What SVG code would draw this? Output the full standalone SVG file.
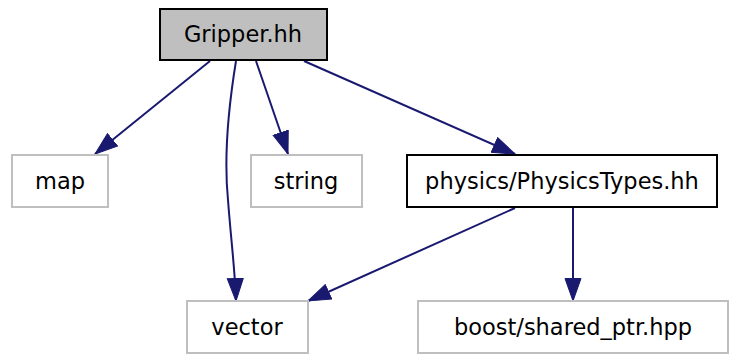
<svg xmlns="http://www.w3.org/2000/svg" width="730" height="354" viewBox="0 0 730 354">
<style>
.n rect{stroke-width:2}
.g rect{fill:#ffffff;stroke:#bfbfbf}
.b rect{fill:#ffffff;stroke:#000000}
text{font-family:"DejaVu Sans",sans-serif;font-size:22.5px;fill:#000000;text-anchor:middle}
.e{fill:none;stroke:#191970;stroke-width:2}
</style>
<defs>
<marker id="ah" markerUnits="userSpaceOnUse" markerWidth="24" markerHeight="18" refX="23" refY="8.5" orient="auto">
<path d="M0.5,0.5 L23,8.5 L0.5,16.5 z" fill="#191970" stroke="#191970" stroke-width="1"/>
</marker>
</defs>
<g id="connectors">
<path class="e" d="M210,61 L95,154" marker-end="url(#ah)"/>
<path class="e" d="M236,61 C228,110 224,160 228,200 C231,240 235,270 236,301" marker-end="url(#ah)"/>
<path class="e" d="M256,61 L288,154" marker-end="url(#ah)"/>
<path class="e" d="M304,61 L515,154" marker-end="url(#ah)"/>
<path class="e" d="M515,208 L308,301" marker-end="url(#ah)"/>
<path class="e" d="M573,208 L573,301" marker-end="url(#ah)"/>
</g>
<g id="node-gripper" class="n"><rect x="160" y="9" width="167" height="51" fill="#bfbfbf" stroke="#000000"/><text x="243" y="42">Gripper.hh</text></g>
<g id="node-map" class="n g"><rect x="12" y="155" width="96" height="52"/><text x="60" y="189">map</text></g>
<g id="node-string" class="n g"><rect x="251" y="155" width="111" height="52"/><text x="306" y="189">string</text></g>
<g id="node-physics" class="n b"><rect x="407" y="155" width="310" height="52"/><text x="562" y="189">physics/PhysicsTypes.hh</text></g>
<g id="node-vector" class="n g"><rect x="187" y="301" width="121" height="52"/><text x="247" y="335">vector</text></g>
<g id="node-boost" class="n g"><rect x="418" y="301" width="310" height="52"/><text x="573" y="335">boost/shared_ptr.hpp</text></g>
</svg>
